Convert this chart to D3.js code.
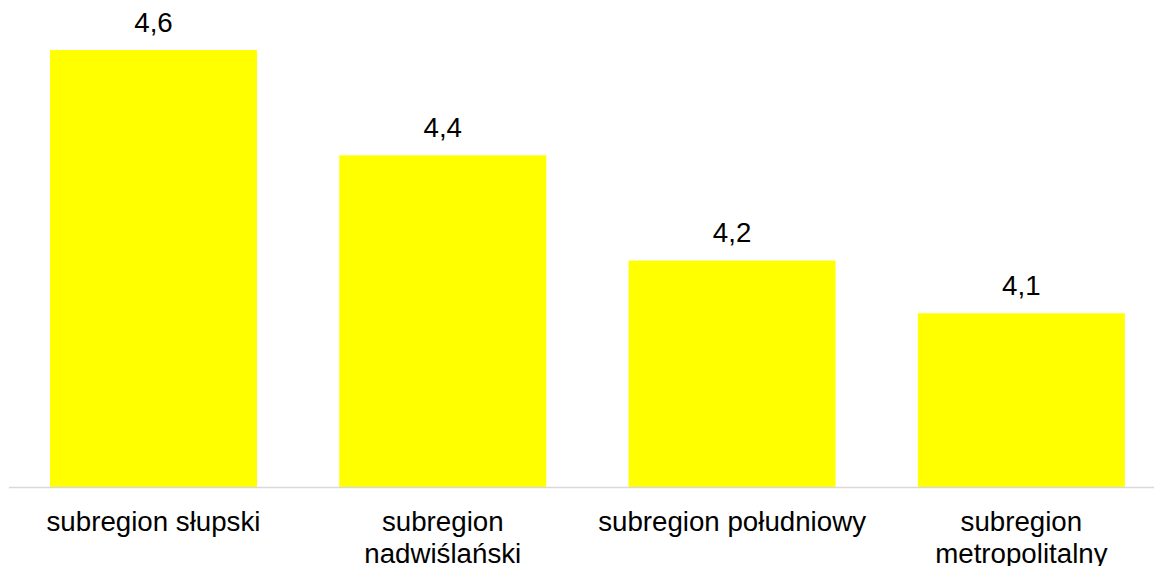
<!DOCTYPE html>
<html>
<head>
<meta charset="utf-8">
<script src="https://cdn.jsdelivr.net/npm/d3@7"></script>
<style>
  html, body { margin: 0; padding: 0; background: #ffffff; }
  svg { display: block; }
  text { font-family: "Liberation Sans", Arial, sans-serif; fill: #000000; }
</style>
</head>
<body>
<svg id="chart" width="1154" height="566"></svg>
<script>
// Subregion names (each entry is split into label lines) and their values
const categories = [
  ["subregion słupski"],
  ["subregion", "nadwiślański"],
  ["subregion południowy"],
  ["subregion", "metropolitalny"]
];
const values = [4.6, 4.4, 4.2, 4.1];
const valueLabels = ["4,6", "4,4", "4,2", "4,1"];

const width = 1154, height = 566;
const baseY = 487;
const fontSize = 27.7;

const svg = d3.select("#chart");

const keys = categories.map(c => c.join(" "));

const x = d3.scaleBand()
  .domain(keys)
  .range([8.85, 1166])
  .paddingInner(0.2845)
  .paddingOuter(0.14225);

const y = d3.scaleLinear()
  .domain([3.77, 4.6])
  .range([baseY, 50]);

const data = keys.map((k, i) => ({ key: k, lines: categories[i], value: values[i], label: valueLabels[i] }));

// Bars
svg.append("g")
  .selectAll("rect")
  .data(data)
  .join("rect")
  .attr("x", d => x(d.key))
  .attr("y", d => y(d.value))
  .attr("width", x.bandwidth())
  .attr("height", d => baseY - y(d.value))
  .attr("fill", "#ffff00");

// Category axis line
svg.append("line")
  .attr("x1", x.range()[0])
  .attr("x2", x.range()[1])
  .attr("y1", baseY + 0.5)
  .attr("y2", baseY + 0.5)
  .attr("stroke", "#d9d9d9")
  .attr("stroke-width", 1.5);

// Value labels above bars
svg.append("g")
  .selectAll("text")
  .data(data)
  .join("text")
  .attr("x", d => x(d.key) + x.bandwidth() / 2)
  .attr("y", d => y(d.value) - 18.5)
  .attr("text-anchor", "middle")
  .style("font-size", fontSize + "px")
  .text(d => d.label);

// Category labels, top-aligned, wrapped onto lines
const cat = svg.append("g")
  .selectAll("text")
  .data(data)
  .join("text")
  .attr("x", d => x(d.key) + x.bandwidth() / 2)
  .attr("y", 531)
  .attr("text-anchor", "middle")
  .style("font-size", fontSize + "px");

cat.selectAll("tspan")
  .data(d => d.lines.map(l => ({ l, cx: x(d.key) + x.bandwidth() / 2 })))
  .join("tspan")
  .attr("x", t => t.cx)
  .attr("dy", (t, i) => i === 0 ? 0 : 32)
  .text(t => t.l);
</script>
</body>
</html>
